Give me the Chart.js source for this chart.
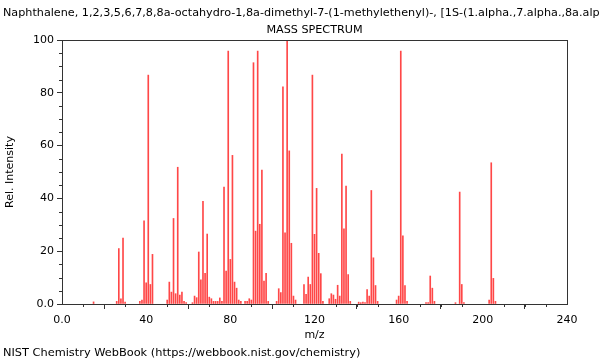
<!DOCTYPE html>
<html><head><meta charset="utf-8">
<script src="https://cdn.jsdelivr.net/npm/chart.js@4/dist/chart.umd.min.js"></script>
<style>html,body{margin:0;padding:0;background:#fff}#wrap{width:600px;height:360px;position:relative}</style>
</head><body><div id="wrap"><canvas id="c" width="600" height="360"></canvas></div>
<script>
const titleText = "Naphthalene, 1,2,3,5,6,7,8,8a-octahydro-1,8a-dimethyl-7-(1-methylethenyl)-, [1S-(1.alpha.,7.alpha.,8a.alpha.)]-";
const subtitleText = "MASS SPECTRUM";
const footerText = "NIST Chemistry WebBook (https://webbook.nist.gov/chemistry)";
const xTitle = "m/z";
const yTitle = "Rel. Intensity";

const mz = [15,26,27,28,29,30,37,38,39,40,41,42,43,50,51,52,53,54,55,56,57,58,59,62,63,64,65,66,67,68,69,70,71,72,73,74,75,76,77,78,79,80,81,82,83,84,85,87,88,89,90,91,92,93,94,95,96,97,98,102,103,104,105,106,107,108,109,110,111,115,116,117,118,119,120,121,122,123,124,127,128,129,130,131,132,133,134,135,136,137,141,142,143,144,145,146,147,148,149,150,159,160,161,162,163,164,173,174,175,176,177,187,189,190,191,203,204,205,206];
const intensity = [0.8,1,21,2,25,0.7,1,1.5,31.5,8,86.7,7.4,18.8,1.5,8.3,4.5,32.4,3.9,51.8,3.4,4.5,1,0.5,0.5,3,2.4,19.7,9.2,38.9,11.6,26.5,2.6,2,1,1,1,2.3,1,44.3,12.5,95.8,16.9,56.3,8.3,6,1.5,1,1,1,2,1.5,91.4,27.6,95.8,30.2,50.7,8.7,11.6,1,1,5.8,4.3,82.3,27,100,58,23,3,1.5,7.4,3.7,10.2,7.4,86.7,26.4,43.8,19.2,11.5,1,2,3.9,3.4,1.8,7.1,3,56.8,28.5,44.7,11.1,1,0.7,0.5,0.7,0.5,5.5,3,43,17.5,7,1,1.5,3,95.8,25.8,7,1,0.5,0.5,10.6,6,1,0.5,42.4,7.4,0.5,1.5,53.5,9.7,1];
const xTickValues = [0,40,80,120,160,200,240];
const yTickValues = [0,20,40,60,80,100];
const xMinorStep = 10;
const yMinorStep = 5;

const FONT = "'DejaVu Sans', sans-serif";
const points = mz.map((m, i) => ({x: m, y: intensity[i]}));

const decor = {
  id: 'decor',
  afterDraw(chart) {
    const ctx = chart.ctx;
    const a = chart.chartArea;
    const xs = chart.scales.x, ys = chart.scales.y;
    ctx.save();
    ctx.strokeStyle = '#333';
    ctx.lineWidth = 1;
    ctx.strokeRect(Math.round(a.left) + 0.5, Math.round(a.top) + 0.5, Math.round(a.right - a.left), Math.round(a.bottom - a.top));
    ctx.beginPath();
    for (let v = xs.min; v <= xs.max; v += xMinorStep) {
      if (xTickValues.includes(v)) continue;
      const px = Math.round(xs.getPixelForValue(v)) + 0.5;
      ctx.moveTo(px, a.bottom); ctx.lineTo(px, a.bottom + 3);
    }
    for (let v = ys.min; v <= ys.max; v += yMinorStep) {
      if (yTickValues.includes(v)) continue;
      const py = Math.round(ys.getPixelForValue(v)) + 0.5;
      ctx.moveTo(a.left, py); ctx.lineTo(a.left - 3, py);
    }
    ctx.stroke();
    ctx.fillStyle = '#000';
    ctx.textBaseline = 'middle';
    ctx.textAlign = 'left';
    ctx.font = "11.2px " + FONT;
    ctx.fillText(titleText, 3, 13);
    ctx.font = "11.35px " + FONT;
    ctx.fillText(footerText, 3, 353);
    ctx.textAlign = 'center';
    ctx.font = "11.2px " + FONT;
    ctx.fillText(subtitleText, (a.left + a.right) / 2, 30);
    ctx.restore();
  }
};

new Chart(document.getElementById('c'), {
  type: 'bar',
  data: {
    datasets: [{
      data: points,
      backgroundColor: 'rgba(255,0,0,0.72)',
      borderWidth: 0,
      barThickness: 1,
      grouped: false
    }]
  },
  options: {
    responsive: false,
    animation: false,
    devicePixelRatio: 1,
    layout: {padding: {top: 40, right: 33, bottom: 18, left: 0}},
    plugins: {legend: {display: false}, tooltip: {enabled: false}, title: {display: false}},
    scales: {
      x: {
        type: 'linear', min: 0, max: 240, offset: false,
        afterBuildTicks: s => { s.ticks = xTickValues.map(v => ({value: v})); },
        afterFit: s => { s.height = 38; },
        grid: {drawOnChartArea: false, tickLength: 5, color: '#333', tickColor: '#333'},
        border: {display: true, color: '#333'},
        ticks: {color: '#000', font: {family: FONT, size: 11}, padding: 5, maxRotation: 0,
          callback: v => v === 0 ? '0.0' : String(v)},
        title: {display: true, text: xTitle, color: '#000', font: {family: FONT, size: 11}, padding: 0}
      },
      y: {
        min: 0, max: 100,
        afterBuildTicks: s => { s.ticks = yTickValues.map(v => ({value: v})); },
        afterFit: s => { s.width = 62; },
        grid: {drawOnChartArea: false, tickLength: 5, color: '#333', tickColor: '#333'},
        border: {display: true, color: '#333'},
        ticks: {color: '#000', font: {family: FONT, size: 11}, padding: 3,
          callback: v => v === 0 ? '0.0' : String(v)},
        title: {display: true, text: yTitle, color: '#000', font: {family: FONT, size: 11}, padding: {top: 4, bottom: 0}}
      }
    }
  },
  plugins: [decor]
});
</script></body></html>
